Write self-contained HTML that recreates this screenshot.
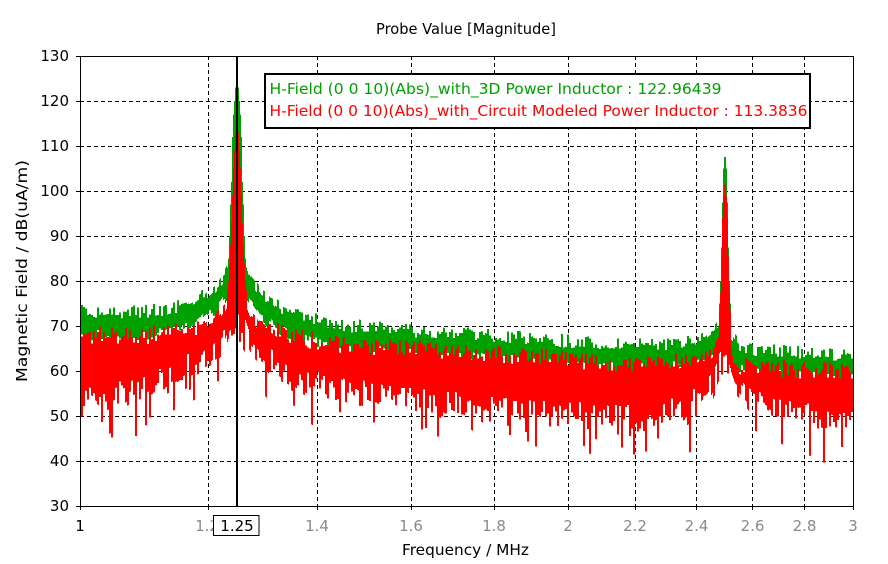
<!DOCTYPE html>
<html><head><meta charset="utf-8"><style>
html,body{margin:0;padding:0;background:#fff;}
svg{display:block;}
text{font-family:"DejaVu Sans","Liberation Sans",sans-serif;}
</style></head><body>
<svg id="s" width="888" height="564" viewBox="0 0 888 564" xmlns="http://www.w3.org/2000/svg">
<rect width="888" height="564" fill="#fff"/>
<text x="466" y="34" font-size="15" text-anchor="middle" textLength="180" lengthAdjust="spacingAndGlyphs" fill="#000">Probe Value [Magnitude]</text>
<g stroke="#000" stroke-width="1" stroke-dasharray="4,3" shape-rendering="crispEdges" fill="none">
<path d="M80,101.5H853M80,146.5H853M80,191.5H853M80,236.5H853M80,281.5H853M80,326.5H853M80,371.5H853M80,416.5H853M80,461.5H853"/>
<path d="M208.5,56V506M317.5,56V506M411.5,56V506M494.5,56V506M568.5,56V506M635.5,56V506M696.5,56V506M752.5,56V506M804.5,56V506"/>
</g>
<path id="gpath" fill="#00a000" shape-rendering="crispEdges" d=""/>
<path id="rpath" fill="#ff0000" shape-rendering="crispEdges" d=""/>
<g stroke="#000" stroke-width="1" fill="none" shape-rendering="crispEdges">
<path d="M80.5,56V506.5H853.5V56.5H76"/>
<path d="M76,101.5H80M76,146.5H80M76,191.5H80M76,236.5H80M76,281.5H80M76,326.5H80M76,371.5H80M76,416.5H80M76,461.5H80M76,506.5H80"/>
<path d="M80.5,506V510M208.5,506V510M317.5,506V510M411.5,506V510M494.5,506V510M568.5,506V510M635.5,506V510M696.5,506V510M752.5,506V510M804.5,506V510M853.5,506V510"/>
</g>
<rect x="236" y="56" width="2" height="450" fill="#000"/>
<g font-size="15" fill="#000" text-anchor="end">
<text x="69" y="61">130</text>
<text x="69" y="106">120</text>
<text x="69" y="151">110</text>
<text x="69" y="196">100</text>
<text x="69" y="241">90</text>
<text x="69" y="286">80</text>
<text x="69" y="331">70</text>
<text x="69" y="376">60</text>
<text x="69" y="421">50</text>
<text x="69" y="466">40</text>
<text x="69" y="511">30</text>
</g>
<g font-size="15" fill="#8a8a8a" text-anchor="middle">
<text x="80" y="531" fill="#000">1</text>
<text x="207" y="531">1.2</text>
<text x="317" y="531">1.4</text>
<text x="411" y="531">1.6</text>
<text x="494" y="531">1.8</text>
<text x="568" y="531">2</text>
<text x="635" y="531">2.2</text>
<text x="696.5" y="531">2.4</text>
<text x="752.5" y="531">2.6</text>
<text x="804.5" y="531">2.8</text>
<text x="853" y="531">3</text>
</g>
<rect x="213.5" y="515.5" width="45.5" height="20" fill="#fff" stroke="#000" stroke-width="1"/>
<text x="237" y="531" font-size="15" text-anchor="middle" fill="#000">1.25</text>
<text x="402" y="555" font-size="15" textLength="127" lengthAdjust="spacingAndGlyphs" fill="#000">Frequency / MHz</text>
<text transform="translate(27,382) rotate(-90)" x="0" y="0" font-size="15" textLength="222" lengthAdjust="spacingAndGlyphs" fill="#000">Magnetic Field / dB(uA/m)</text>
<rect x="265" y="74" width="545" height="54" fill="#fff" stroke="#000" stroke-width="2"/>
<text x="269.5" y="94" font-size="15" fill="#00a000" textLength="452" lengthAdjust="spacingAndGlyphs">H-Field (0 0 10)(Abs)_with_3D Power Inductor : 122.96439</text>
<text x="269.5" y="116" font-size="15" fill="#ff0000" textLength="538" lengthAdjust="spacingAndGlyphs">H-Field (0 0 10)(Abs)_with_Circuit Modeled Power Inductor : 113.3836</text>
</svg>
<script>
(function(){
var seed=987654321;
function rnd(){seed^=seed<<13;seed>>>=0;seed^=seed>>>17;seed^=seed<<5;seed>>>=0;return seed/4294967296;}
function lerp(p,x){if(x<=p[0][0])return p[0][1];for(var i=1;i<p.length;i++){if(x<=p[i][0]){var a=p[i-1],b=p[i];return a[1]+(b[1]-a[1])*(x-a[0])/(b[0]-a[0]);}}return p[p.length-1][1];}
function tip(t,d){if(d>t[t.length-1][0])return -1e9;return lerp(t,d);}
var Gt=[[80,74],[120,73.8],[150,74],[180,75],[200,77],[215,79.5],[225,82],[230,84],[244,84],[248,82],[260,78],[280,75],[300,73],[340,71],[400,69.8],[470,69],[530,68],[610,66.6],[650,66.5],[690,67.2],[705,68],[714,69.5],[719,71],[722,74],[728,74],[731,68.5],[740,66.3],[760,65.3],[800,64.8],[853,64.2]];
var Rt=[[80,69.5],[150,69.5],[200,71],[215,73],[225,75.5],[230,78],[244,78],[250,74.5],[260,72],[300,68.8],[340,67.5],[470,65.5],[530,64.8],[610,63.3],[650,63.5],[700,64.5],[712,66],[718,69],[721,73],[729,70],[733,64],[740,62.6],[760,62.3],[800,61.8],[853,61.2]];
var Rb=[[80,55.5],[100,54],[130,56],[160,58],[190,61],[210,64],[225,67],[230,70],[244,70],[250,66],[270,62],[300,58.5],[340,56],[400,53.5],[470,52],[530,51],[610,49.5],[650,49.5],[680,51.5],[700,54],[712,57.5],[720,62],[729,62],[735,58],[750,54],[790,50.5],[853,48.5]];
var tG1=[[0,123.3],[1.5,123],[2.5,120],[3.5,117],[4.5,112],[5.5,102],[6.5,97],[7.5,90],[8.5,85],[9.5,83],[12,81]];
var tR1=[[0,113.6],[1.5,113],[2.5,109],[3.5,105],[4.5,99],[5.5,93],[6.5,88],[7.5,84],[8.5,80],[10,77]];
var tG2=[[0,108.2],[1,107],[2,103],[3,92],[4,83],[5,77],[6,73]];
var tR2=[[0,102],[1,101],[2,97],[3,91],[4,80],[5,75],[6,72]];
function Y(db){var y=56+(130-db)*4.5;if(y<56)y=56;if(y>506)y=506;return y.toFixed(1);}
var g="",r="";
var u1,u2,u3,u4,u5,u6;
for(var x=81;x<853;x++){
 if((x-81)%2==0){u1=rnd();u2=rnd();u3=rnd();u4=rnd();u5=rnd();u6=rnd();}
 var xc=x+0.5,d1=Math.abs(xc-237),d2=Math.abs(xc-725);
 var gb=lerp(Gt,xc)+0.8;
 var gtop=Math.max(gb-3*u1,tip(tG1,d1),tip(tG2,d2));
 var gbot=gb-5.5-2.5*u2;
 if(gbot>gtop-1)gbot=gtop-1;
 g+="M"+x+","+Y(gtop)+"h1V"+Y(gbot)+"h-1z";
 var rt=lerp(Rt,xc)+0.5;
 var rtop=Math.max(rt-4*u3,tip(tR1,d1),tip(tR2,d2));
 var rbot=lerp(Rb,xc)+3*(1-2*u4);
 if(u5<0.22)rbot-=9*u6;
 if(rbot>rtop-1.5)rbot=rtop-1.5;
 r+="M"+x+","+Y(rtop)+"h1V"+Y(rbot)+"h-1z";
}
document.getElementById("gpath").setAttribute("d",g);
document.getElementById("rpath").setAttribute("d",r);
})();
</script>
</body></html>
